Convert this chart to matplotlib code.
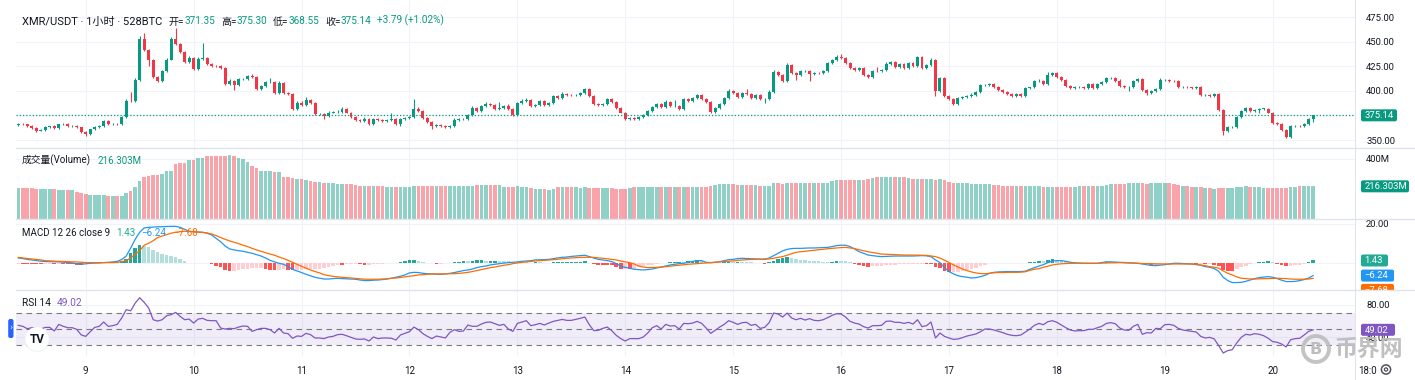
import numpy as np
import matplotlib
matplotlib.use("Agg")
import matplotlib.pyplot as plt
from matplotlib.patches import FancyBboxPatch, Circle, Rectangle
from matplotlib.colors import to_rgba

plt.rcParams['font.family'] = ['Roboto', 'Noto Sans CJK SC', 'DejaVu Sans']

# ------------------------------------------------------------------ data
first_open = 365.0
closes = [
    366.5, 366.0, 364.5, 362.0, 359.5, 360.0, 363.0, 364.0, 362.5, 366.0, 366.5, 364.0,
    364.5, 363.0, 358.5, 356.0, 361.0, 363.5, 364.0, 369.0, 366.0, 366.5, 366.0, 373.5,
    390.0, 389.5, 411.0, 453.0, 441.5, 431.5, 414.0, 410.0, 420.0, 432.0, 453.0, 448.0,
    440.0, 429.0, 434.0, 422.0, 433.0, 434.0, 427.0, 425.5, 425.0, 423.0, 407.0, 410.0,
    406.5, 412.0, 412.5, 415.0, 414.0, 402.0, 405.0, 409.0, 409.5, 398.0, 408.0, 398.0,
    397.0, 381.5, 388.0, 386.0, 390.5, 387.5, 376.0, 376.5, 374.0, 378.0, 378.5, 379.0,
    381.5, 378.0, 373.0, 370.5, 369.5, 371.0, 366.0, 371.0, 370.0, 369.5, 370.0, 371.0,
    366.0, 371.0, 372.5, 373.0, 382.0, 380.0, 372.0, 368.0, 364.0, 365.5, 364.5, 363.5,
    364.0, 370.5, 371.0, 371.0, 375.0, 383.0, 380.0, 384.5, 387.0, 386.0, 382.0, 382.5,
    385.0, 382.0, 375.5, 387.5, 390.0, 391.0, 384.5, 385.5, 389.5, 385.5, 388.0, 394.5,
    392.5, 397.0, 396.0, 395.5, 396.0, 398.0, 401.5, 395.0, 386.5, 386.0, 386.5, 391.5,
    388.5, 383.0, 378.0, 371.5, 372.0, 371.5, 373.0, 375.0, 380.0, 384.0, 386.5, 383.5,
    389.0, 384.5, 385.0, 382.0, 391.5, 389.5, 393.0, 395.5, 392.0, 389.0, 378.5, 383.0,
    387.0, 393.0, 400.0, 397.5, 393.5, 397.5, 397.0, 392.5, 395.5, 391.5, 392.0, 399.0,
    419.5, 416.0, 410.0, 426.5, 418.0, 416.0, 420.0, 420.5, 417.0, 418.5, 418.0, 420.5,
    428.0, 431.5, 435.0, 434.0, 428.0, 423.0, 421.0, 423.0, 416.0, 414.0, 420.5, 420.0,
    421.0, 427.5, 429.0, 424.0, 427.0, 423.0, 428.0, 425.0, 435.0, 423.0, 426.5, 432.0,
    400.0, 413.5, 394.5, 391.5, 386.5, 393.0, 393.5, 395.0, 395.5, 399.0, 406.0, 406.5,
    407.5, 404.0, 400.5, 398.5, 397.0, 394.5, 396.5, 395.0, 402.5, 403.5, 410.0, 410.5,
    407.0, 416.0, 418.5, 414.0, 411.0, 405.0, 403.0, 404.0, 404.5, 403.0, 407.0, 402.5,
    407.5, 409.0, 413.0, 413.5, 410.5, 405.0, 403.5, 404.0, 410.0, 412.5, 401.0, 397.5,
    400.0, 401.5, 411.0, 411.5, 410.5, 410.0, 404.0, 404.5, 403.5, 403.0, 404.0, 395.5,
    395.5, 394.5, 397.0, 381.0, 359.0, 363.0, 363.5, 373.0, 380.0, 383.0, 380.0, 380.5,
    382.0, 382.0, 378.0, 367.5, 366.0, 360.5, 353.5, 364.0, 364.5, 364.0, 366.0, 371.35,
    375.14,
]
upper_wicks = [
    1.0, 0.8, 0.6, 0.8, 1.0, 0.8, 1.2, 0.6, 1.0, 0.8, 1.0, 0.6,
    0.8, 1.0, 0.6, 0.8, 0.6, 1.0, 0.8, 1.2, 1.0, 0.6, 0.8, 1.0,
    2.0, 9.0, 2.0, 3.0, 6.0, 1.5, 1.5, 1.0, 1.5, 2.0, 2.0, 11.0,
    1.0, 1.0, 2.0, 1.0, 2.0, 15.0, 1.0, 1.5, 1.0, 1.0, 1.0, 2.0,
    1.5, 1.0, 1.0, 1.5, 2.0, 1.0, 1.0, 1.5, 3.5, 1.0, 2.0, 1.0,
    1.0, 1.0, 1.5, 1.5, 3.0, 1.0, 1.0, 1.5, 1.0, 1.5, 1.0, 1.5,
    2.0, 1.0, 1.0, 1.0, 1.0, 2.5, 1.0, 1.5, 1.0, 1.0, 1.0, 6.0,
    1.0, 1.0, 1.0, 1.5, 9.5, 1.5, 1.0, 1.0, 1.0, 1.0, 1.0, 1.0,
    1.0, 1.5, 1.0, 1.0, 1.5, 1.5, 1.0, 1.0, 1.5, 1.0, 1.0, 6.0,
    1.0, 2.0, 1.0, 1.0, 1.5, 1.5, 1.0, 1.0, 1.0, 1.0, 1.0, 1.5,
    1.0, 1.5, 1.0, 1.0, 1.0, 1.0, 1.5, 1.0, 1.0, 1.0, 1.0, 1.5,
    1.0, 1.0, 1.0, 1.0, 1.0, 1.0, 1.0, 1.0, 1.0, 1.0, 1.5, 1.0,
    1.5, 1.0, 5.5, 1.0, 1.5, 1.0, 1.0, 1.5, 1.0, 1.0, 1.0, 1.0,
    1.0, 1.0, 1.5, 1.0, 1.0, 1.0, 4.0, 1.0, 1.0, 1.0, 1.0, 1.5,
    1.5, 1.0, 1.0, 1.5, 1.0, 1.0, 1.0, 1.0, 1.0, 1.0, 1.0, 1.0,
    1.5, 1.5, 1.5, 3.0, 1.0, 1.0, 1.0, 1.0, 1.0, 1.0, 1.0, 4.0,
    1.0, 1.5, 1.0, 1.0, 1.0, 1.0, 1.5, 1.0, 1.0, 1.0, 1.0, 2.0,
    1.0, 1.0, 1.0, 1.5, 1.0, 1.0, 1.0, 1.0, 2.5, 1.0, 1.0, 1.0,
    1.0, 1.0, 1.0, 1.0, 1.0, 1.0, 1.0, 1.0, 1.0, 1.0, 1.0, 1.5,
    1.0, 3.5, 1.0, 1.0, 1.0, 1.0, 1.0, 1.0, 1.0, 1.0, 1.0, 1.0,
    1.0, 1.5, 1.0, 1.0, 1.0, 1.5, 1.0, 1.0, 1.0, 1.0, 1.0, 1.0,
    1.0, 1.0, 2.0, 1.0, 1.0, 1.0, 1.0, 1.0, 1.0, 1.0, 1.0, 1.0,
    1.0, 1.0, 1.0, 1.0, 1.0, 1.0, 1.0, 1.0, 1.0, 1.0, 1.0, 1.0,
    1.0, 1.0, 1.0, 1.0, 1.0, 1.0, 1.0, 1.0, 1.0, 1.0, 1.0, 1.5,
    0.16,
]
lower_wicks = [
    0.8, 1.0, 0.8, 1.0, 1.2, 0.8, 0.6, 1.0, 0.8, 1.0, 0.6, 1.0,
    1.0, 0.8, 1.0, 1.5, 0.8, 0.6, 1.0, 0.8, 1.0, 0.8, 1.0, 0.8,
    1.0, 1.0, 1.0, 1.0, 1.0, 6.0, 1.0, 1.0, 1.0, 1.0, 1.0, 1.0,
    1.0, 1.0, 1.0, 1.0, 1.0, 1.0, 1.0, 1.0, 1.0, 1.0, 1.0, 1.0,
    5.5, 1.0, 1.0, 1.0, 1.0, 1.0, 1.0, 1.0, 1.0, 1.0, 1.0, 1.0,
    1.0, 1.0, 1.0, 1.0, 1.0, 1.0, 1.0, 1.0, 3.0, 1.0, 1.0, 1.0,
    1.0, 1.0, 1.0, 1.0, 1.0, 1.0, 1.0, 1.0, 1.0, 1.0, 1.0, 1.0,
    1.0, 2.0, 1.0, 1.0, 1.0, 1.0, 1.0, 1.0, 3.0, 1.0, 1.0, 1.0,
    1.0, 1.0, 1.0, 1.0, 1.0, 1.0, 1.0, 1.0, 1.0, 1.0, 1.0, 1.0,
    1.0, 1.0, 1.0, 1.0, 1.0, 1.0, 1.0, 1.0, 1.0, 1.0, 1.0, 1.0,
    1.0, 1.0, 1.0, 1.0, 1.0, 1.0, 1.0, 1.0, 1.0, 1.0, 1.0, 1.0,
    1.0, 1.0, 1.0, 1.0, 1.0, 1.0, 1.0, 1.0, 1.0, 1.0, 1.0, 1.0,
    1.0, 1.0, 1.0, 1.0, 1.0, 1.0, 1.0, 1.0, 1.0, 1.0, 1.0, 1.0,
    1.0, 1.0, 1.0, 1.0, 1.0, 1.0, 1.0, 1.0, 1.0, 1.0, 4.0, 1.0,
    1.0, 1.0, 1.0, 1.0, 1.0, 5.0, 1.0, 1.0, 7.0, 1.0, 1.0, 1.0,
    1.0, 1.0, 1.0, 1.0, 1.0, 1.0, 1.0, 1.0, 1.0, 1.0, 1.0, 1.0,
    1.0, 1.0, 1.0, 1.0, 1.0, 1.0, 1.0, 1.0, 1.0, 1.0, 1.0, 1.0,
    5.0, 1.0, 1.0, 1.0, 1.0, 1.0, 1.0, 1.0, 1.0, 1.0, 1.0, 1.0,
    1.0, 1.0, 1.0, 1.0, 1.0, 1.0, 1.0, 1.0, 1.0, 1.0, 1.0, 1.0,
    1.0, 1.0, 1.0, 1.0, 1.0, 1.0, 1.0, 1.0, 1.0, 1.0, 1.0, 1.0,
    1.0, 1.0, 1.0, 1.0, 1.0, 1.0, 1.0, 3.5, 1.0, 1.0, 1.0, 2.0,
    1.0, 1.0, 1.0, 1.0, 1.0, 1.0, 1.0, 1.0, 1.0, 1.0, 1.0, 1.0,
    1.0, 1.0, 1.0, 1.0, 4.0, 1.0, 1.0, 1.0, 1.0, 1.0, 1.0, 1.0,
    3.5, 1.0, 1.0, 1.0, 1.0, 1.0, 1.0, 1.0, 1.0, 1.0, 1.0, 1.0,
    2.8,
]
volumes_m = [
    205, 205, 203, 203, 201, 201, 201, 201, 199, 194, 192, 190,
    190, 179, 172, 165, 161, 161, 158, 161, 155, 155, 155, 155,
    172, 183, 210, 254, 279, 283, 288, 292, 301, 317, 317, 362,
    368, 373, 388, 391, 402, 406, 417, 417, 417, 420, 417, 422,
    417, 406, 397, 379, 348, 335, 321, 321, 317, 308, 308, 281,
    275, 270, 268, 263, 259, 254, 243, 243, 241, 241, 239, 234,
    234, 232, 230, 228, 221, 221, 221, 219, 219, 217, 214, 210,
    212, 212, 212, 212, 221, 221, 221, 219, 219, 221, 221, 217,
    221, 221, 221, 221, 221, 221, 223, 223, 228, 228, 228, 226,
    214, 212, 210, 216, 214, 212, 203, 201, 199, 196, 194, 196,
    210, 210, 210, 210, 210, 208, 210, 207, 205, 203, 203, 203,
    203, 201, 201, 201, 203, 210, 210, 210, 212, 212, 214, 212,
    212, 212, 212, 210, 212, 212, 212, 210, 210, 214, 219, 223,
    230, 232, 234, 232, 228, 228, 228, 226, 223, 221, 221, 219,
    237, 237, 235, 239, 239, 237, 237, 239, 241, 241, 241, 241,
    241, 250, 257, 259, 261, 261, 261, 259, 259, 266, 270, 275,
    277, 275, 277, 279, 277, 275, 270, 268, 266, 263, 263, 263,
    261, 263, 259, 246, 239, 237, 237, 239, 234, 232, 232, 232,
    230, 228, 223, 221, 219, 219, 219, 219, 219, 217, 217, 217,
    212, 212, 210, 210, 210, 210, 212, 214, 217, 217, 217, 217,
    217, 219, 228, 230, 230, 232, 232, 237, 241, 241, 239, 234,
    237, 239, 241, 241, 239, 234, 228, 221, 219, 214, 212, 210,
    208, 203, 199, 203, 205, 208, 208, 210, 214, 219, 214, 210,
    210, 208, 205, 203, 203, 203, 208, 212, 214, 217, 217, 219,
    216.303,
]
macd_line = [
    2.7, 2.4, 2.0, 1.7, 1.4, 1.1, 0.9, 0.85, 0.75, 0.7, 0.6, 0.4,
    0.2, -0.2, -0.5, -0.25, 0.0, 0.1, 0.2, 0.35, 0.5, 0.7, 1.0, 1.9,
    3.7, 7.8, 12.2, 15.8, 18.0, 18.3, 18.4, 18.6, 18.6, 18.7, 18.8, 18.8,
    18.3, 17.3, 16.3, 16.0, 15.9, 15.8, 15.3, 14.4, 12.7, 11.0, 8.8, 7.3,
    6.8, 6.4, 6.1, 5.6, 5.1, 4.4, 3.7, 2.7, 1.5, 0.7, 0.0, -0.5,
    -1.7, -3.1, -3.9, -4.7, -5.6, -6.4, -7.1, -7.6, -8.0, -8.0, -7.8, -7.6,
    -7.8, -7.9, -8.0, -8.1, -8.5, -8.8, -8.8, -8.6, -8.5, -8.3, -8.0, -7.6,
    -7.1, -6.6, -5.9, -4.9, -4.6, -4.7, -5.1, -5.3, -5.4, -5.6, -5.6, -5.4,
    -5.1, -4.7, -4.2, -3.7, -3.4, -2.9, -2.2, -1.7, -1.4, -0.85, -0.5, -0.17,
    0.1, 0.35, 0.5, 0.7, 1.0, 1.2, 1.35, 1.7, 1.8, 1.85, 2.0, 2.4,
    2.7, 3.05, 3.2, 3.5, 3.7, 3.9, 4.1, 3.4, 2.7, 2.0, 1.7, 1.35,
    0.85, -0.17, -1.5, -2.0, -2.5, -3.05, -3.2, -3.4, -3.2, -2.9, -2.4, -1.9,
    -1.4, -0.85, -0.5, -0.17, 0.0, 0.5, 1.0, 1.35, 1.35, 0.5, 0.35, 0.5,
    0.85, 1.35, 1.85, 2.0, 2.4, 2.55, 2.45, 2.4, 2.2, 2.1, 2.0, 2.7,
    3.9, 5.1, 6.3, 7.1, 7.5, 7.6, 7.6, 7.7, 7.8, 7.8, 7.9, 8.0,
    8.1, 8.5, 9.0, 9.2, 9.2, 8.5, 7.3, 5.9, 5.1, 4.2, 3.9, 3.6,
    3.4, 3.5, 3.6, 3.7, 3.7, 3.7, 3.7, 3.7, 3.8, 3.9, 3.8, 3.4,
    1.7, 0.35, -2.2, -4.2, -5.4, -6.3, -6.8, -7.1, -7.5, -7.3, -6.8, -6.1,
    -5.1, -4.6, -4.4, -4.3, -4.2, -4.2, -4.2, -4.2, -4.0, -3.05, -2.2, -1.4,
    -0.7, 0.35, 1.2, 1.35, 1.35, 1.0, 0.5, 0.25, 0.1, 0.0, 0.0, 0.0,
    0.0, 0.35, 0.75, 0.75, 0.6, 0.5, 0.4, 0.25, 0.17, 0.0, -0.35, -0.7,
    -1.1, -1.2, -0.95, -0.7, -0.35, 0.0, 0.0, -0.1, -0.17, -0.35, -0.7, -1.0,
    -1.7, -2.0, -2.7, -4.1, -7.1, -8.8, -9.8, -9.8, -9.7, -9.2, -8.5, -7.8,
    -7.3, -7.0, -6.8, -7.1, -7.8, -8.6, -9.3, -9.3, -9.2, -8.8, -8.3, -7.5,
    -6.24,
]
signal_line = [
    3.0, 2.7, 2.45, 2.2, 1.95, 1.7, 1.35, 1.2, 1.1, 1.0, 0.95, 0.85,
    0.75, 0.7, 0.5, 0.35, 0.35, 0.35, 0.35, 0.35, 0.35, 0.35, 0.5, 0.85,
    1.35, 2.7, 4.6, 6.4, 9.2, 10.2, 11.5, 13.1, 13.9, 14.6, 15.3, 15.8,
    16.1, 16.3, 16.2, 16.1, 15.9, 15.7, 15.4, 14.9, 14.1, 13.1, 12.2, 11.4,
    10.7, 10.0, 9.2, 8.5, 7.6, 6.8, 6.1, 5.4, 4.7, 4.1, 3.2, 2.4,
    1.5, 0.5, -0.5, -1.5, -2.5, -3.4, -4.2, -4.9, -5.8, -6.3, -6.6, -6.9,
    -7.1, -7.3, -7.5, -7.7, -7.9, -8.1, -8.1, -8.1, -8.1, -8.0, -7.9, -7.6,
    -7.5, -7.2, -6.9, -6.6, -6.3, -5.9, -5.8, -5.6, -5.4, -5.4, -5.4, -5.4,
    -5.3, -5.3, -5.1, -4.9, -4.6, -4.2, -3.7, -3.2, -2.7, -2.2, -1.9, -1.4,
    -1.0, -0.7, -0.17, 0.17, 0.5, 0.7, 0.95, 1.2, 1.35, 1.5, 1.7, 1.85,
    2.1, 2.4, 2.55, 2.7, 2.9, 3.0, 3.05, 3.05, 3.0, 2.8, 2.55, 2.3,
    1.95, 1.7, 1.2, 0.7, 0.35, -0.35, -1.4, -1.9, -2.2, -2.1, -2.0, -1.95,
    -1.7, -1.5, -1.2, -0.95, -0.75, -0.5, -0.35, -0.17, 0.0, 0.17, 0.35, 0.5,
    0.7, 0.85, 1.0, 1.2, 1.5, 1.7, 1.85, 1.95, 2.0, 2.1, 2.2, 2.2,
    2.55, 3.05, 3.4, 4.1, 4.9, 5.6, 5.9, 6.1, 6.4, 6.6, 6.9, 7.1,
    7.4, 7.6, 7.8, 8.0, 8.1, 7.8, 7.5, 6.9, 6.4, 5.9, 5.5, 5.1,
    4.7, 4.6, 4.5, 4.4, 4.3, 4.2, 4.2, 4.15, 4.15, 4.1, 4.0, 3.7,
    3.4, 2.6, 1.6, 0.4, -0.8, -1.9, -2.9, -3.7, -4.4, -4.9, -5.2, -5.3,
    -5.1, -4.8, -4.7, -4.7, -4.6, -4.6, -4.6, -4.5, -4.3, -3.6, -3.05, -2.7,
    -2.0, -1.5, -0.85, -0.5, -0.25, -0.1, 0.0, 0.0, 0.0, 0.0, 0.0, 0.0,
    0.0, 0.1, 0.17, 0.25, 0.25, 0.35, 0.25, 0.17, 0.1, 0.0, -0.1, -0.17,
    -0.25, -0.35, -0.35, -0.35, -0.35, -0.35, -0.35, -0.35, -0.35, -0.35, -0.5, -0.85,
    -1.2, -1.7, -2.0, -2.5, -3.9, -5.1, -5.9, -6.9, -7.6, -7.8, -8.0, -8.0,
    -7.9, -7.8, -7.8, -7.7, -7.6, -7.7, -7.8, -8.0, -8.1, -8.1, -8.1, -8.0,
    -7.68,
]
rsi_line = [
    54.5, 53.3, 50.4, 51.6, 50.4, 50.0, 52.0, 52.0, 47.6, 55.7, 53.3, 51.6,
    51.6, 49.6, 42.7, 41.0, 46.7, 52.0, 53.3, 58.6, 53.3, 54.1, 55.7, 63.5,
    73.7, 72.4, 81.8, 88.4, 82.7, 75.7, 61.4, 59.8, 61.4, 66.3, 67.6, 70.4,
    65.5, 61.4, 62.2, 57.3, 62.2, 63.1, 60.6, 60.2, 60.2, 51.2, 50.0, 50.8,
    50.4, 52.4, 53.7, 53.3, 47.1, 49.2, 50.8, 50.8, 49.2, 45.1, 50.8, 45.1,
    44.3, 38.6, 41.4, 41.0, 44.7, 43.1, 39.0, 39.0, 38.2, 40.2, 41.0, 43.1,
    43.5, 41.8, 39.8, 37.8, 37.3, 37.8, 35.3, 40.2, 38.2, 39.0, 39.0, 38.6,
    36.5, 42.7, 44.7, 46.7, 52.4, 49.2, 44.3, 41.0, 38.2, 41.4, 40.2, 39.0,
    45.9, 49.2, 47.1, 47.6, 54.9, 53.3, 53.3, 56.1, 58.2, 58.6, 56.5, 54.5,
    55.7, 50.0, 47.1, 56.9, 58.6, 60.2, 54.1, 55.3, 56.9, 54.9, 57.3, 59.4,
    60.6, 61.8, 60.6, 60.6, 61.8, 63.1, 64.7, 55.3, 48.0, 48.4, 50.8, 52.4,
    48.0, 42.2, 38.2, 35.3, 38.2, 38.2, 38.2, 40.2, 45.1, 51.6, 54.1, 50.0,
    55.7, 53.7, 54.1, 50.0, 56.9, 56.5, 57.3, 59.4, 56.9, 51.2, 44.7, 48.4,
    52.4, 55.7, 60.2, 58.2, 55.7, 57.8, 58.2, 54.5, 55.7, 50.8, 52.0, 57.8,
    69.6, 68.4, 64.7, 69.6, 63.5, 61.4, 63.1, 61.0, 62.7, 60.6, 60.2, 61.4,
    63.9, 66.7, 68.8, 68.4, 64.7, 59.4, 57.3, 56.1, 52.9, 51.2, 54.1, 54.1,
    54.5, 59.4, 59.8, 58.2, 58.2, 56.9, 58.2, 56.1, 61.4, 52.9, 54.1, 58.6,
    39.0, 45.1, 41.0, 39.0, 37.3, 37.8, 39.4, 41.4, 42.7, 43.9, 46.7, 50.0,
    50.0, 48.8, 47.1, 45.5, 43.5, 42.2, 41.8, 42.7, 46.3, 50.0, 54.5, 56.9,
    55.3, 59.0, 60.2, 58.2, 54.9, 51.6, 48.8, 47.6, 48.0, 48.0, 49.6, 49.6,
    51.6, 53.3, 56.9, 57.8, 56.5, 51.2, 48.8, 48.4, 53.3, 55.7, 43.5, 45.5,
    45.1, 50.8, 50.4, 55.3, 55.7, 54.5, 50.8, 48.8, 48.0, 47.1, 46.3, 41.0,
    39.0, 39.8, 37.8, 29.6, 20.6, 23.5, 24.7, 32.9, 39.8, 43.5, 42.7, 44.3,
    43.5, 41.8, 38.6, 34.5, 33.7, 31.6, 28.0, 36.9, 38.2, 38.6, 42.7, 47.1,
    49.02,
]
day_labels = ['9', '10', '11', '12', '13', '14', '15', '16', '17', '18', '19', '20']
first_day_candle = 15          # hourly candle index of day 9, 00:00
candles_per_day = 24
price_ticks = [350, 375, 400, 425, 450, 475]
vol_ticks = [400]
vol_tick_labels = ['400M']
macd_ticks = [0, 20]
macd_tick_labels = ['', '20.00']
rsi_ticks = [40, 80]
rsi_tick_labels = ['40.00', '80.00']
rsi_levels = [70, 50, 30]
title_text = 'XMR/USDT · 1小时 · 528BTC'
ohlc_names = ['开=', '高=', '低=', '收=']
ohlc_values = ['371.35', '375.30', '368.55', '375.14']
change_text = '+3.79 (+1.02%)'
last_close = 375.14
last_volume = 216.303
last_macd, last_signal, last_hist = -6.24, -7.68, 1.43
last_rsi = 49.02

# ------------------------------------------------------------------ styling
W, H = 1415, 380
GREEN, RED = '#089981', '#F23645'
TXT, GRID, SEP = '#131722', '#f0f3fa', '#e0e3eb'
BLUE, ORANGE, PURPLE = '#2196F3', '#FF6D00', '#7E57C2'
PX_L, PX_R = 15.6, 1355.0
C0_PX, STEP_PX = 18.3, 4.496
XLIM = ((PX_L - C0_PX) / STEP_PX, (PX_R - C0_PX) / STEP_PX)

fig = plt.figure(figsize=(W / 100, H / 100), dpi=100)
fig.patch.set_facecolor('white')

n = len(closes)
x = np.arange(n)
c = np.array(closes, dtype=float)
o = np.r_[first_open, c[:-1]]
hi = np.maximum(o, c) + np.array(upper_wicks)
lo = np.minimum(o, c) - np.array(lower_wicks)
up = c >= o
ccol = np.where(up, GREEN, RED)
day_pos = [first_day_candle + candles_per_day * k for k in range(len(day_labels))]


def make_pane(top, bottom, ylim, yticks, ylabels):
    ax = fig.add_axes([PX_L / W, 1 - bottom / H, (PX_R - PX_L) / W, (bottom - top) / H])
    ax.set_facecolor('none')
    for s in ax.spines.values():
        s.set_visible(False)
    ax.set_xlim(*XLIM)
    ax.set_ylim(*ylim)
    ax.set_xticks(day_pos)
    ax.set_yticks(yticks, ylabels)
    ax.yaxis.tick_right()
    ax.tick_params(axis='x', length=0, labelbottom=False)
    ax.tick_params(axis='y', length=0, pad=8.0, labelsize=6.8, labelcolor=TXT)
    ax.grid(True, color=GRID, lw=0.8)
    ax.set_axisbelow(True)
    return ax


ax_p = make_pane(0, 147.7, (342.16, 492.62), price_ticks, [f'{v:.2f}' for v in price_ticks])
ax_v = make_pane(147.7, 219.0, (0, 472), vol_ticks, vol_tick_labels)
ax_m = make_pane(219.0, 290.3, (-13.74, 22.54), macd_ticks, macd_tick_labels)
ax_r = make_pane(290.3, 356.0, (16.9, 97.5), rsi_ticks, rsi_tick_labels)
ax_r.set_xticklabels(day_labels)
ax_r.tick_params(axis='x', labelbottom=True, labelsize=7, labelcolor=TXT, pad=7.5)

# price candles
ax_p.vlines(x, lo, hi, colors=ccol, lw=0.8, zorder=2)
ax_p.bar(x, np.maximum(np.abs(c - o), 0.45), bottom=np.minimum(o, c), width=0.66,
         color=ccol, lw=0, zorder=3)
ax_p.axhline(last_close, color=GREEN, lw=0.9, ls=(0, (1, 1.6)), zorder=4)

# volume
vcol = [to_rgba(GREEN, 0.45) if u else to_rgba(RED, 0.45) for u in up]
ax_v.bar(x, volumes_m, width=0.8, color=vcol, lw=0, zorder=2)

# MACD
m = np.array(macd_line)
s = np.array(signal_line)
hist = m - s
hcol = []
for k, h in enumerate(hist):
    prev = hist[k - 1] if k > 0 else h
    if h >= 0:
        hcol.append('#26A69A' if h > prev else '#B2DFDB')
    else:
        hcol.append('#FF5252' if h < prev else '#FFCDD2')
ax_m.bar(x, hist, width=0.8, color=hcol, lw=0, zorder=2)
ax_m.plot(x, m, color=BLUE, lw=0.9, zorder=3)
ax_m.plot(x, s, color=ORANGE, lw=0.9, zorder=3)

# RSI
ax_r.axhspan(rsi_levels[2], rsi_levels[0], color=PURPLE, alpha=0.1, lw=0, zorder=1)
for lvl in rsi_levels:
    ax_r.axhline(lvl, color='#787B86', lw=0.8, ls=(0, (5, 4)), zorder=2)
ax_r.plot(x, rsi_line, color=PURPLE, lw=0.9, zorder=3)

# ------------------------------------------------------------------ overlay
ov = fig.add_axes([0, 0, 1, 1])
ov.set_xlim(0, W)
ov.set_ylim(H, 0)
ov.axis('off')
ov.set_zorder(10)
ov.patch.set_alpha(0)

for yy in (147.7, 219.0, 290.3):
    ov.plot([PX_L, W], [yy, yy], color=SEP, lw=1.0)
ov.plot([PX_R, PX_R], [0, H], color=SEP, lw=0.7)


def legend_line(x0, ybot, parts):
    t = None
    for txt, colr, gap, size in parts:
        if t is None:
            t = ov.text(x0, ybot, txt, color=colr, fontsize=size, va='bottom', ha='left')
        else:
            t = ov.annotate(txt, xy=(1, 0), xycoords=t, xytext=(gap, 0),
                            textcoords='offset points', color=colr, fontsize=size,
                            va='bottom', ha='left')


parts = [(title_text, TXT, 0, 8.0)]
for k, (nm, val) in enumerate(zip(ohlc_names, ohlc_values)):
    parts.append((nm, TXT, 5.0 if k == 0 else 4.0, 7.2))
    parts.append((val, GREEN, 0.2, 7.2))
parts.append((change_text, GREEN, 3.5, 7.2))
legend_line(21.7, 26.5, parts)
legend_line(21.7, 166.5, [('成交量(Volume)', TXT, 0, 7.0),
                          (f'{last_volume:.3f}M', GREEN, 4.5, 7.0)])
legend_line(21.7, 237.5, [('MACD 12 26 close 9', TXT, 0, 7.0),
                          (f'{last_hist:.2f}', '#22AB94', 4.5, 7.0),
                          (f'\u2212{abs(last_macd):.2f}', BLUE, 4.5, 7.0),
                          (f'\u2212{abs(last_signal):.2f}', ORANGE, 4.5, 7.0)])
legend_line(21.7, 308.5, [('RSI 14', TXT, 0, 7.3), (f'{last_rsi:.2f}', PURPLE, 4.5, 7.3)])


def tag(ax, val, text, color, width, shift=0.0, clip_bottom=None):
    ypx = H - ax.transData.transform((0, val))[1] + shift
    box = FancyBboxPatch((1361, ypx - 6), width, 12,
                         boxstyle='round,pad=0,rounding_size=2', fc=color, ec='none')
    ov.add_patch(box)
    t = ov.text(1364.5, ypx + 0.3, text, color='white', fontsize=6.8, va='center', ha='left')
    if clip_bottom is not None:
        cp = Rectangle((PX_R, 0), W - PX_R, clip_bottom, transform=ov.transData)
        box.set_clip_path(cp)
        t.set_clip_path(cp)


tag(ax_p, last_close, f'{last_close:.2f}', GREEN, 36)
tag(ax_v, last_volume, f'{last_volume:.3f}M', GREEN, 48)
tag(ax_m, last_hist, f'{last_hist:.2f}', '#22AB94', 27)
tag(ax_m, last_macd, f'\u2212{abs(last_macd):.2f}', BLUE, 33)
tag(ax_m, last_signal, f'\u2212{abs(last_signal):.2f}', ORANGE, 33, shift=11.5, clip_bottom=290.3)
tag(ax_r, last_rsi, f'{last_rsi:.2f}', PURPLE, 34)

# time axis extra label and settings icon
ov.text(1358, 370.5, '18:0', color=TXT, fontsize=7, va='center', ha='left')
ov.add_patch(Circle((1386, 369.5), 4.6, fill=False, ec='#50535e', lw=1.1))
ov.add_patch(Circle((1386, 369.5), 1.6, fill=False, ec='#50535e', lw=0.9))

# left collapse tab
ov.add_patch(FancyBboxPatch((8.2, 319), 5.3, 19, boxstyle='round,pad=0,rounding_size=2',
                            fc='#2962FF', ec='none'))
ov.text(10.9, 328.5, '›', color='white', fontsize=5.5, ha='center', va='center',
        family=['DejaVu Sans'])

# TradingView logo badge
ov.add_patch(Circle((37.0, 339.5), 12.5, fc='#e9ebf0', ec='none', alpha=0.6))
ov.add_patch(Circle((37.0, 339.0), 11.8, fc='white', ec='none'))
ov.text(37.0, 339.5, 'TV', color='#131722', fontsize=8.5, fontweight='bold',
        ha='center', va='center')

# watermark
ov.add_patch(Circle((1316, 349), 13, fill=False, ec='#bdbdbd', lw=2.8, alpha=0.9))
ov.text(1316, 349.5, 'B', color='#bdbdbd', fontsize=11.5, fontweight='bold',
        ha='center', va='center', family=['DejaVu Sans'])
ov.text(1334, 349.5, '币界网', color='#bdbdbd', fontsize=16.5, fontweight='bold',
        ha='left', va='center', family=['Noto Sans CJK SC'], alpha=0.95)

fig.savefig('out.png', dpi=100, facecolor='white')
